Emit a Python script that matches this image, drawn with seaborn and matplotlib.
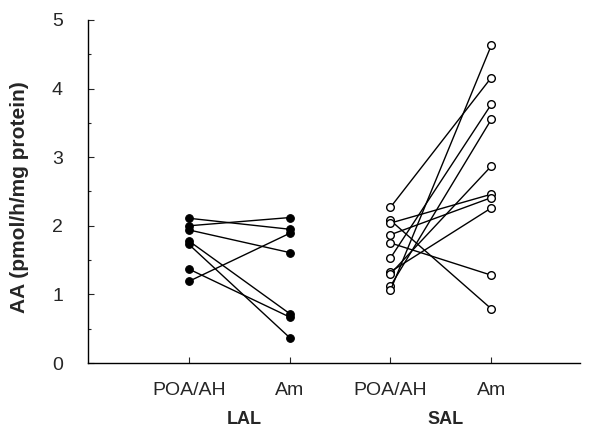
import numpy as np
import pandas as pd
import matplotlib
matplotlib.use("Agg")
import matplotlib.pyplot as plt
import matplotlib.transforms as mtransforms
import seaborn as sns

# ---- data ----
regions = ["POA/AH", "Am"]
groups = ["LAL", "SAL"]
tick_labels = ["POA/AH", "Am", "POA/AH", "Am"]

lal_poa = [2.11, 2.00, 1.94, 1.78, 1.73, 1.37, 1.19]
lal_am = [1.95, 2.12, 1.61, 0.72, 0.37, 0.67, 1.89]

sal_poa = [2.27, 2.08, 2.04, 1.87, 1.75, 1.53, 1.33, 1.30, 1.12, 1.06]
sal_am = [4.16, 0.79, 2.46, 2.41, 1.28, 3.77, 2.26, 2.87, 3.55, 4.63]

yticks = [0, 1, 2, 3, 4, 5]
ylabel = "AA (pmol/h/mg protein)"

# ---- long-form table ----
rows = []
for gi, (g, poa, am) in enumerate([("LAL", lal_poa, lal_am), ("SAL", sal_poa, sal_am)]):
    for i, (a, b) in enumerate(zip(poa, am)):
        rows.append({"group": g, "subject": f"{g}{i}", "pos": 2 * gi + 0, "value": a})
        rows.append({"group": g, "subject": f"{g}{i}", "pos": 2 * gi + 1, "value": b})
df = pd.DataFrame(rows)

sns.set_style("ticks")
plt.rcParams["font.family"] = ["Liberation Sans", "DejaVu Sans"]

fig = plt.figure(figsize=(5.89, 4.29), dpi=100)
ax = fig.add_axes([88 / 589, 66 / 429, (580 - 88) / 589, (363 - 20) / 429])

sns.lineplot(data=df[df.group == "LAL"], x="pos", y="value", units="subject",
             estimator=None, color="black", lw=1.0, marker="o", markersize=5.5,
             markerfacecolor="black", markeredgecolor="black", markeredgewidth=0.8,
             ax=ax, legend=False)
sns.lineplot(data=df[df.group == "SAL"], x="pos", y="value", units="subject",
             estimator=None, color="black", lw=1.0, marker="o", markersize=5.5,
             markerfacecolor="white", markeredgecolor="black", markeredgewidth=1.0,
             ax=ax, legend=False)

ax.set_xlim(-1.0, 3.88)
ax.set_ylim(0, 5)
ax.set_xticks([0, 1, 2, 3])
ax.set_xticklabels(tick_labels, fontsize=14)
ax.set_yticks(yticks)
ax.set_yticklabels([str(t) for t in yticks], fontsize=14)
ax.set_yticks(np.arange(0.5, 5, 1.0), minor=True)
ax.tick_params(axis="y", which="major", direction="in", length=4, width=0.8, pad=18)
ax.tick_params(axis="y", which="minor", direction="in", length=2.5, width=0.8)
ax.tick_params(axis="x", which="major", direction="in", length=4, width=0.8, pad=14)
ax.set_xlabel("")
ax.set_ylabel(ylabel, fontsize=15, fontweight="bold")
ax.yaxis.set_label_coords(-0.12, 0.485)

sns.despine(ax=ax)
for s in ["left", "bottom"]:
    ax.spines[s].set_linewidth(1.0)
    ax.spines[s].set_color("black")

trans = mtransforms.blended_transform_factory(ax.transData, fig.transFigure)
for gi, g in enumerate(groups):
    ax.text(2 * gi + 0.55, 1 - 419 / 429, g, transform=trans, ha="center", va="center",
            fontsize=13, fontweight="bold")

fig.savefig("out.png", dpi=100)
